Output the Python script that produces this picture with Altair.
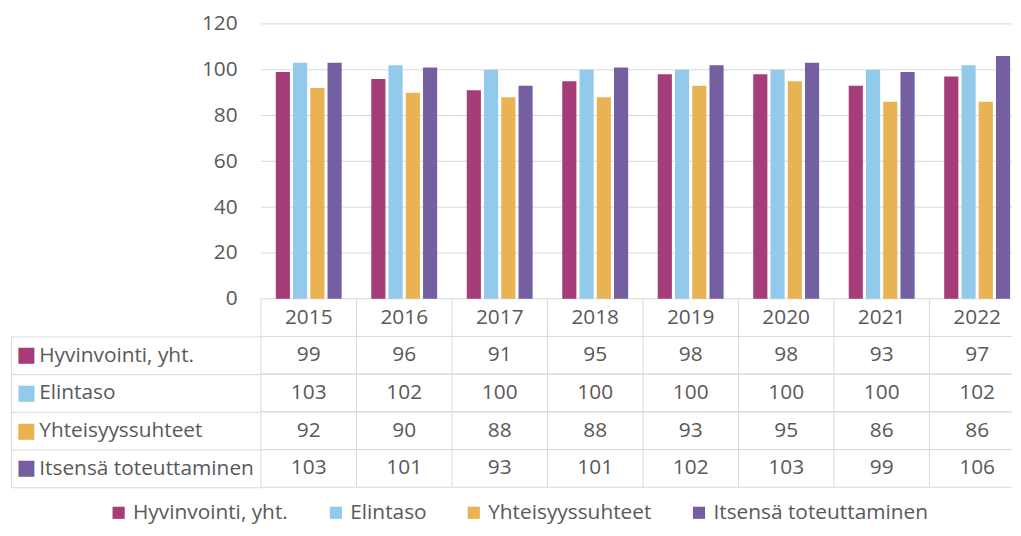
import altair as alt
import pandas as pd

years = ["2015", "2016", "2017", "2018", "2019", "2020", "2021", "2022"]
series = ["Hyvinvointi, yht.", "Elintaso", "Yhteisyyssuhteet", "Itsensä toteuttaminen"]
hyvinvointi = [99, 96, 91, 95, 98, 98, 93, 97]
elintaso = [103, 102, 100, 100, 100, 100, 100, 102]
yhteisyys = [92, 90, 88, 88, 93, 95, 86, 86]
itsensa = [103, 101, 93, 101, 102, 103, 99, 106]
colors = ["#a43d78", "#93c9ea", "#e9b353", "#7460a1"]
y_ticks = [0, 20, 40, 60, 80, 100, 120]

rows = []
for s, vals in zip(series, [hyvinvointi, elintaso, yhteisyys, itsensa]):
    for yr, v in zip(years, vals):
        rows.append({"year": yr, "series": s, "value": v})
df = pd.DataFrame(rows)
df_ticks = pd.DataFrame({"tick": y_ticks})
df_years = pd.DataFrame({"year": years})
df_series = pd.DataFrame({"series": series})

FONT = "Open Sans"
TEXT = "#595959"
GRID = "#d9d9d9"
FS = 21
W = 757           # visible plot width (the reference is cropped on the right)
RANGE = [0, 770]  # full band range of the 8 year columns

# ---------------- bar chart ----------------
y_axis = alt.Axis(title=None, values=y_ticks, domain=False, ticks=False, grid=False,
                  labelPadding=24, labelFont=FONT, labelFontSize=FS, labelColor=TEXT)
y_scale = alt.Scale(domain=[0, 120])

grid = alt.Chart(df_ticks).mark_rule(color=GRID, strokeWidth=1).encode(
    y=alt.Y("tick:Q", scale=y_scale, axis=y_axis)
)

bars = alt.Chart(df).mark_bar().encode(
    x=alt.X("year:N", sort=years,
            scale=alt.Scale(domain=years, range=RANGE, paddingInner=0.31, paddingOuter=0.155),
            axis=None),
    xOffset=alt.XOffset("series:N", sort=series, scale=alt.Scale(paddingInner=0.18)),
    y=alt.Y("value:Q", scale=y_scale, axis=y_axis),
    color=alt.Color("series:N", sort=series,
                    scale=alt.Scale(domain=series, range=colors),
                    legend=alt.Legend(title=None, orient="none", legendX=-154, legendY=482,
                                      direction="horizontal", symbolType="square",
                                      symbolSize=150, symbolStrokeWidth=0,
                                      labelFont=FONT, labelFontSize=FS, labelColor=TEXT,
                                      columnPadding=37, labelOffset=4, labelLimit=400)),
)

top = alt.layer(grid, bars).properties(width=W, height=277)

# ---------------- data table ----------------
xs_table = alt.Scale(domain=years, range=RANGE, paddingInner=0, paddingOuter=0)
ys_table = alt.Scale(domain=series, paddingInner=0, paddingOuter=0)

hdr_lines = alt.Chart(df_years).mark_rule(color=GRID).encode(
    x=alt.X("year:N", sort=years, scale=xs_table, bandPosition=0, axis=None)
)
hdr_text = alt.Chart(df_years).mark_text(font=FONT, fontSize=FS, color=TEXT).encode(
    x=alt.X("year:N", sort=years, scale=xs_table, axis=None),
    text="year:N",
)
header = alt.layer(hdr_lines, hdr_text).properties(width=W, height=38)

label_color = {
    "condition": [
        {"test": "datum.value === '%s'" % series[0], "value": colors[0]},
        {"test": "datum.value === '%s'" % series[1], "value": colors[1]},
        {"test": "datum.value === '%s'" % series[2], "value": colors[2]},
    ],
    "value": colors[3],
}

vlines = alt.Chart(df_years).mark_rule(color=GRID).encode(
    x=alt.X("year:N", sort=years, scale=xs_table, bandPosition=0, axis=None)
)
hlines_top = alt.Chart(df_series).mark_rule(color=GRID).encode(
    y=alt.Y("series:N", sort=series, scale=ys_table, bandPosition=0, axis=None)
)
hlines_bottom = alt.Chart(df_series).mark_rule(color=GRID).encode(
    y=alt.Y("series:N", sort=series, scale=ys_table, bandPosition=1, axis=None)
)

vals = alt.Chart(df).mark_text(font=FONT, fontSize=FS, color=TEXT).encode(
    x=alt.X("year:N", sort=years, scale=xs_table, axis=None),
    y=alt.Y("series:N", sort=series, scale=ys_table,
            axis=alt.Axis(title=None, orient="left", domain=False, ticks=True, tickSize=252,
                          tickColor=GRID, tickBand="extent", grid=False,
                          labelAlign="left", labelPadding=-28, labelBaseline="middle",
                          labelFont=FONT, labelFontSize=FS, labelColor=TEXT, labelLimit=400)),
    text="value:Q",
)

swatches = alt.Chart(df_series).mark_point(opacity=0).encode(
    y=alt.Y("series:N", sort=series, scale=ys_table,
            axis=alt.Axis(title=None, orient="left", offset=252, domain=True, domainColor=GRID,
                          ticks=False, grid=False, labelExpr="'■'", labelAlign="center",
                          labelPadding=-15, labelBaseline="middle", labelFont="DejaVu Sans",
                          labelFontSize=21, labelColor=label_color)),
)

body = alt.layer(vlines, hlines_top, hlines_bottom, vals, swatches).resolve_axis(
    y="independent").properties(width=W, height=152)

chart = alt.vconcat(top, header, body, spacing=0, bounds="flush").configure_view(
    stroke="transparent").properties(padding={"left": 2, "top": 2, "right": 0, "bottom": 0})

chart.save("out.html", embed_options={"renderer": "svg", "actions": False})
